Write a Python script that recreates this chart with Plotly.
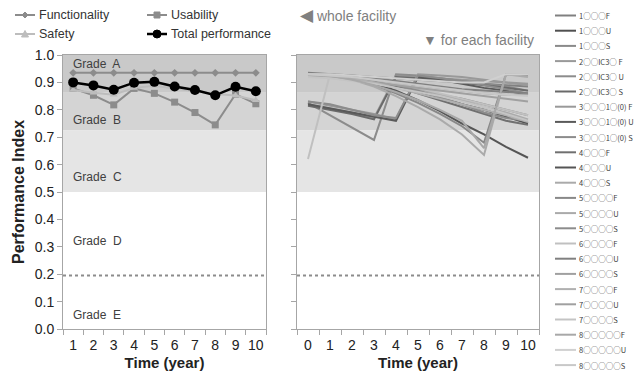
import plotly.graph_objects as go

# ---------------- data ----------------
years_left = ["1", "2", "3", "4", "5", "6", "7", "8", "9", "10"]
functionality = [0.935, 0.935, 0.935, 0.935, 0.935, 0.935, 0.935, 0.935, 0.935, 0.935]
usability = [0.878, 0.853, 0.818, 0.878, 0.860, 0.828, 0.790, 0.745, 0.857, 0.822]
safety = [0.872, 0.862, 0.855, 0.880, 0.888, 0.878, 0.866, 0.858, 0.852, 0.835]
total = [0.900, 0.889, 0.873, 0.899, 0.902, 0.885, 0.872, 0.853, 0.884, 0.868]

years_right = ["0", "1", "2", "3", "4", "5", "6", "7", "8", "9", "10"]
facility_names = [
    "1○○○F", "1○○○U", "1○○○S",
    "2○○IC3○ F", "2○○IC3○ U", "2○○IC3○ S",
    "3○○○1○(0) F", "3○○○1○(0) U", "3○○○1○(0) S",
    "4○○○F", "4○○○U", "4○○○S",
    "5○○○○F", "5○○○○U", "5○○○○S",
    "6○○○○F", "6○○○○U", "6○○○○S",
    "7○○○○F", "7○○○○U", "7○○○○S",
    "8○○○○○F", "8○○○○○U", "8○○○○○S",
]
facility_values = [
    [0.930, 0.928, 0.925, 0.920, 0.915, 0.910, 0.905, 0.900, 0.895, 0.890, 0.885],
    [0.930, 0.925, 0.915, 0.900, 0.885, 0.865, 0.845, 0.820, 0.800, 0.775, 0.750],
    [0.925, 0.920, 0.910, 0.900, 0.885, 0.870, 0.855, 0.840, 0.820, 0.800, 0.780],
    [0.820, 0.805, 0.790, 0.770, 0.925, 0.920, 0.915, 0.910, 0.905, 0.900, 0.895],
    [0.825, 0.780, 0.735, 0.690, 0.930, 0.925, 0.915, 0.905, 0.895, 0.885, 0.870],
    [0.815, 0.800, 0.785, 0.765, 0.920, 0.915, 0.910, 0.900, 0.890, 0.880, 0.870],
    [0.830, 0.815, 0.800, 0.785, 0.765, 0.930, 0.925, 0.920, 0.910, 0.900, 0.890],
    [0.820, 0.805, 0.790, 0.775, 0.760, 0.920, 0.910, 0.895, 0.880, 0.870, 0.855],
    [0.830, 0.820, 0.800, 0.780, 0.770, 0.925, 0.915, 0.905, 0.890, 0.875, 0.860],
    [0.930, 0.930, 0.920, 0.905, 0.885, 0.860, 0.835, 0.810, 0.785, 0.760, 0.745],
    [0.930, 0.930, 0.915, 0.895, 0.870, 0.835, 0.795, 0.750, 0.710, 0.665, 0.625],
    [0.930, 0.930, 0.920, 0.910, 0.895, 0.875, 0.855, 0.835, 0.810, 0.790, 0.765],
    [0.930, 0.930, 0.915, 0.890, 0.860, 0.825, 0.785, 0.740, 0.680, 0.930, 0.925],
    [0.930, 0.930, 0.910, 0.885, 0.850, 0.810, 0.765, 0.710, 0.635, 0.930, 0.920],
    [0.930, 0.930, 0.920, 0.905, 0.890, 0.870, 0.845, 0.820, 0.790, 0.770, 0.760],
    [0.620, 0.930, 0.920, 0.910, 0.895, 0.880, 0.860, 0.840, 0.820, 0.800, 0.780],
    [0.935, 0.930, 0.925, 0.915, 0.905, 0.895, 0.885, 0.875, 0.870, 0.865, 0.860],
    [0.925, 0.920, 0.910, 0.900, 0.890, 0.880, 0.870, 0.860, 0.850, 0.840, 0.830],
    [0.930, 0.925, 0.915, 0.900, 0.880, 0.860, 0.840, 0.820, 0.800, 0.780, 0.755],
    [0.930, 0.928, 0.920, 0.910, 0.900, 0.890, 0.880, 0.870, 0.860, 0.855, 0.855],
    [0.920, 0.915, 0.905, 0.895, 0.880, 0.865, 0.850, 0.830, 0.810, 0.785, 0.760],
    [0.930, 0.925, 0.910, 0.890, 0.865, 0.835, 0.800, 0.760, 0.660, 0.930, 0.930],
    [0.930, 0.930, 0.925, 0.920, 0.915, 0.910, 0.905, 0.900, 0.900, 0.930, 0.930],
    [0.930, 0.925, 0.920, 0.910, 0.900, 0.890, 0.880, 0.870, 0.860, 0.855, 0.850],
]
facility_colors = [
    "#808080", "#505050", "#8a8a8a",
    "#999999", "#8c8c8c", "#6a6a6a",
    "#999999", "#5a5a5a", "#8c8c8c",
    "#707070", "#555555", "#aaaaaa",
    "#888888", "#aaaaaa", "#8c8c8c",
    "#c0c0c0", "#808080", "#a0a0a0",
    "#b0b0b0", "#a0a0a0", "#c4c4c4",
    "#a8a8a8", "#d0d0d0", "#c8c8c8",
]

grade_bands = [(0.862, 1.0, "#c9c9c9"), (0.724, 0.862, "#d4d4d4"), (0.5, 0.724, "#e5e5e5")]
grade_labels = ["Grade\u00a0 A", "Grade\u00a0 B", "Grade\u00a0 C", "Grade\u00a0 D", "Grade\u00a0 E"]
grade_label_y = [0.967, 0.763, 0.555, 0.321, 0.051]
limit_line = 0.195

# ---------------- layout helpers (pixel -> paper) ----------------
W, H = 634, 376
ML, MR, MT, MB = 63, 95, 55, 47
PW, PH = W - ML - MR, H - MT - MB


def px(xp):
    return (xp - ML) / PW


def py(yp):
    return (H - MB - yp) / PH


FONT = "Arial, Liberation Sans, sans-serif"
CJK = "Noto Sans CJK JP, Arial, sans-serif"

fig = go.Figure()

# left panel traces
fig.add_trace(go.Scatter(x=years_left, y=functionality, mode="lines+markers", name="Functionality",
                         line=dict(color="#8c8c8c", width=2),
                         marker=dict(symbol="diamond", size=6, color="#8c8c8c"),
                         xaxis="x", yaxis="y"))
fig.add_trace(go.Scatter(x=years_left, y=usability, mode="lines+markers", name="Usability",
                         line=dict(color="#8c8c8c", width=2),
                         marker=dict(symbol="square", size=7, color="#8c8c8c"),
                         xaxis="x", yaxis="y"))
fig.add_trace(go.Scatter(x=years_left, y=safety, mode="lines+markers", name="Safety",
                         line=dict(color="#bdbdbd", width=2),
                         marker=dict(symbol="triangle-up", size=7, color="#bdbdbd"),
                         xaxis="x", yaxis="y"))
fig.add_trace(go.Scatter(x=years_left, y=total, mode="lines+markers", name="Total performance",
                         line=dict(color="#000000", width=2.5),
                         marker=dict(symbol="circle", size=10, color="#000000"),
                         xaxis="x", yaxis="y"))

# right panel traces
for name, vals, col in zip(facility_names, facility_values, facility_colors):
    fig.add_trace(go.Scatter(x=years_right, y=vals, mode="lines", name=name,
                             line=dict(color=col, width=2), xaxis="x2", yaxis="y2"))

shapes = []
annotations = []

# grade bands and limit line in both panels
for xr, yr in (("x domain", "y"), ("x2 domain", "y2")):
    for y0, y1, col in grade_bands:
        shapes.append(dict(type="rect", xref=xr, yref=yr, x0=0, x1=1, y0=y0, y1=y1,
                           fillcolor=col, line=dict(width=0), layer="below"))
    shapes.append(dict(type="line", xref=xr, yref=yr, x0=0, x1=1, y0=limit_line, y1=limit_line,
                       line=dict(color="#8c8c8c", width=2, dash="dot"), layer="below"))

for txt, yv in zip(grade_labels, grade_label_y):
    annotations.append(dict(text=txt, xref="x domain", yref="y", x=0.04, y=yv, xanchor="left",
                            yanchor="middle", showarrow=False,
                            font=dict(family=FONT, size=12, color="#404040")))

# top-left legend (drawn manually)
legend_items = [
    ("Functionality", 15, 15, "#8c8c8c", "diamond"),
    ("Usability", 147, 15, "#8c8c8c", "square"),
    ("Safety", 15, 34, "#bdbdbd", "triangle"),
    ("Total performance", 147, 34, "#000000", "circle"),
]
for label, x0p, yp, col, sym in legend_items:
    shapes.append(dict(type="line", xref="paper", yref="paper", x0=px(x0p), x1=px(x0p + 20),
                       y0=py(yp), y1=py(yp), line=dict(color=col, width=2.5 if sym == "circle" else 2)))
    common = dict(xref="paper", yref="paper", xsizemode="pixel", ysizemode="pixel",
                  xanchor=px(x0p + 10), yanchor=py(yp), fillcolor=col, line=dict(color=col, width=1))
    if sym == "circle":
        shapes.append(dict(type="circle", x0=-4, x1=4, y0=-4, y1=4, **common))
    elif sym == "square":
        shapes.append(dict(type="rect", x0=-3, x1=3, y0=-3, y1=3, **common))
    elif sym == "diamond":
        shapes.append(dict(type="path", path="M 0,3 L 3,0 L 0,-3 L -3,0 Z", **common))
    else:
        shapes.append(dict(type="path", path="M -3.5,-3 L 3.5,-3 L 0,3.5 Z", **common))
    annotations.append(dict(text=label, xref="paper", yref="paper", x=px(x0p + 22), y=py(yp),
                            xanchor="left", yanchor="middle", showarrow=False,
                            font=dict(family=FONT, size=12.5, color="#333333")))

annotations.append(dict(text="<span style='font-size:17px'>◀</span> whole facility", xref="paper", yref="paper",
                        x=px(298), y=py(16), xanchor="left", yanchor="middle", showarrow=False,
                        font=dict(family=FONT, size=14, color="#808080")))
annotations.append(dict(text="▼ for each facility", xref="paper", yref="paper", x=px(536), y=py(40),
                        xanchor="right", yanchor="middle", showarrow=False,
                        font=dict(family=FONT, size=14, color="#808080")))

# right legend (drawn manually)
for k, (name, col) in enumerate(zip(facility_names, facility_colors)):
    yp = 15.5 + 15.2 * k
    shapes.append(dict(type="line", xref="paper", yref="paper", x0=px(555), x1=px(576),
                       y0=py(yp), y1=py(yp), line=dict(color=col, width=2)))
    annotations.append(dict(text=name, xref="paper", yref="paper", x=px(577), y=py(yp),
                            xanchor="left", yanchor="middle", showarrow=False,
                            font=dict(family=CJK, size=7.5, color="#404040")))

axis_common = dict(showgrid=False, zeroline=False, showline=True, linecolor="#a6a6a6", linewidth=1,
                   mirror=True, ticks="outside", ticklen=5, tickcolor="#a6a6a6",
                   tickfont=dict(family=FONT, size=14, color="#222222"))

fig.update_layout(
    width=W, height=H, margin=dict(l=ML, r=MR, t=MT, b=MB),
    paper_bgcolor="white", plot_bgcolor="white", showlegend=False,
    xaxis=dict(domain=[0, 203 / PW], type="category", categoryorder="array", categoryarray=years_left,
               range=[-0.5, 9.5], tickson="boundaries", anchor="y", tickangle=0, ticklabelstandoff=3,
               automargin=False,
               title=dict(text="<b>Time (year)</b>", standoff=5, font=dict(family=FONT, size=15, color="#222222")),
               **axis_common),
    yaxis=dict(domain=[0, 1], range=[0, 1.0], dtick=0.1, tickformat=".1f", anchor="x", automargin=False,
               title=dict(text="<b>Performance Index</b>", standoff=6, font=dict(family=FONT, size=16, color="#222222")),
               **axis_common),
    xaxis2=dict(domain=[234 / PW, 1], type="category", categoryorder="array", categoryarray=years_right,
                range=[-0.5, 10.5], tickson="boundaries", anchor="y2", tickangle=0, ticklabelstandoff=3,
                automargin=False,
                title=dict(text="<b>Time (year)</b>", standoff=5, font=dict(family=FONT, size=15, color="#222222")),
                **axis_common),
    yaxis2=dict(domain=[0, 1], range=[0, 1.0], dtick=0.1, anchor="x2", showticklabels=False, automargin=False,
                **axis_common),
    shapes=shapes, annotations=annotations,
)

fig.write_html("out.html")
